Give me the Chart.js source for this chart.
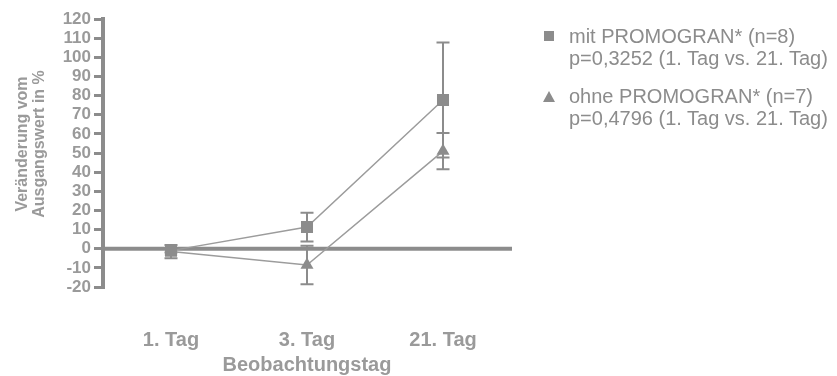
<!DOCTYPE html>
<html>
<head>
<meta charset="utf-8">
<script src="https://cdn.jsdelivr.net/npm/chart.js@4.4.1/dist/chart.umd.min.js"></script>
<style>
  html, body { margin: 0; padding: 0; background: #fff; }
  #wrap { position: relative; width: 837px; height: 376px; }
  #c { position: absolute; left: 0; top: 0; }
  .leg { position: absolute; left: 540px; font-family: "Liberation Sans", Arial, sans-serif; font-size: 20px; line-height: 22px; color: #8c8c8c; white-space: nowrap; }
  .leg .txt { position: absolute; left: 29px; top: 0; }
  .mk { position: absolute; }
</style>
</head>
<body>
<div id="wrap">
  <canvas id="c" width="837" height="376"></canvas>
  <div class="leg" id="leg1" style="top:25px;">
    <div class="mk" style="left:4px; top:6px; width:10px; height:10px; background:#8c8c8c;"></div>
    <div class="txt">mit PROMOGRAN* (n=8)<br>p=0,3252 (1. Tag vs. 21. Tag)</div>
  </div>
  <div class="leg" id="leg2" style="top:85px;">
    <div class="mk" style="left:3px; top:6px; width:0; height:0; border-left:6px solid transparent; border-right:6px solid transparent; border-bottom:11px solid #8c8c8c;"></div>
    <div class="txt">ohne PROMOGRAN* (n=7)<br>p=0,4796 (1. Tag vs. 21. Tag)</div>
  </div>
</div>
<script>
const categories = ['1. Tag', '3. Tag', '21. Tag'];
const mitValues = [-1, 11.3, 77.7];
const mitErrors = [1, 7.5, 30];
const ohneValues = [-1.5, -8.5, 51];
const ohneErrors = [3.5, 10, 9.5];
const yMin = -20;
const yMax = 120;
const yStep = 10;
const yTitleLines = ['Veränderung vom', 'Ausgangswert in %'];
const xTitle = 'Beobachtungstag';
const errorsByDataset = [mitErrors, ohneErrors];

const GRAY = '#8c8c8c';
const LINE = '#9c9c9c';
const TEXT = '#9a9a9a';
const FONT = '"Liberation Sans", Arial, sans-serif';

const zeroLinePlugin = {
  id: 'zeroLine',
  beforeDatasetsDraw(chart) {
    const { ctx, chartArea, scales } = chart;
    const y = scales.y.getPixelForValue(0);
    ctx.save();
    ctx.strokeStyle = GRAY;
    ctx.lineWidth = 4;
    ctx.beginPath();
    ctx.moveTo(chartArea.left, y);
    ctx.lineTo(chartArea.right + 1, y);
    ctx.stroke();
    ctx.restore();
  }
};

const errorBarPlugin = {
  id: 'errorBars',
  beforeDatasetsDraw(chart) {
    const { ctx, scales } = chart;
    ctx.save();
    ctx.strokeStyle = GRAY;
    ctx.lineWidth = 2;
    chart.data.datasets.forEach((ds, di) => {
      const errs = errorsByDataset[di];
      ds.data.forEach((v, i) => {
        const x = scales.x.getPixelForValue(i);
        const yt = scales.y.getPixelForValue(v + errs[i]);
        const yb = scales.y.getPixelForValue(v - errs[i]);
        ctx.beginPath();
        ctx.moveTo(x, yt); ctx.lineTo(x, yb);
        ctx.moveTo(x - 6.5, yt); ctx.lineTo(x + 6.5, yt);
        ctx.moveTo(x - 6.5, yb); ctx.lineTo(x + 6.5, yb);
        ctx.stroke();
      });
    });
    ctx.restore();
  }
};

const yTitlePlugin = {
  id: 'yTitle',
  afterDraw(chart) {
    const { ctx, chartArea } = chart;
    ctx.save();
    ctx.fillStyle = TEXT;
    ctx.font = 'bold 16px ' + FONT;
    ctx.textAlign = 'center';
    ctx.textBaseline = 'middle';
    const cy = (chartArea.top + chartArea.bottom) / 2 - 9;
    const xs = [23, 40];
    yTitleLines.forEach((t, i) => {
      ctx.save();
      ctx.translate(xs[i], cy);
      ctx.rotate(-Math.PI / 2);
      ctx.fillText(t, 0, 0);
      ctx.restore();
    });
    ctx.restore();
  }
};

new Chart(document.getElementById('c'), {
  type: 'line',
  data: {
    labels: categories,
    datasets: [
      {
        label: 'mit PROMOGRAN* (n=8)',
        data: mitValues,
        borderColor: LINE,
        borderWidth: 1.5,
        backgroundColor: GRAY,
        pointStyle: 'rect',
        pointRadius: 8.5,
        pointBackgroundColor: GRAY,
        pointBorderColor: GRAY,
        pointBorderWidth: 0,
        tension: 0
      },
      {
        label: 'ohne PROMOGRAN* (n=7)',
        data: ohneValues,
        borderColor: LINE,
        borderWidth: 1.5,
        backgroundColor: GRAY,
        pointStyle: 'triangle',
        pointRadius: 7.5,
        pointBackgroundColor: GRAY,
        pointBorderColor: GRAY,
        pointBorderWidth: 0,
        tension: 0
      }
    ]
  },
  options: {
    responsive: false,
    animation: false,
    devicePixelRatio: 1,
    layout: { padding: { left: 0, right: 326, top: 19, bottom: 0 } },
    plugins: { legend: { display: false }, tooltip: { enabled: false } },
    scales: {
      x: {
        type: 'category',
        offset: true,
        grid: { display: false, drawTicks: false },
        border: { display: false },
        ticks: { color: TEXT, font: { family: FONT, size: 20, weight: 'bold' }, padding: 41 },
        title: { display: true, text: xTitle, color: TEXT, font: { family: FONT, size: 20, weight: 'bold', lineHeight: 1 }, padding: { top: 0, bottom: 1 } },
        afterFit(scale) { scale.height = 89; }
      },
      y: {
        min: yMin,
        max: yMax,
        ticks: { stepSize: yStep, autoSkip: false, color: TEXT, font: { family: FONT, size: 17, weight: 'bold' }, padding: 3 },
        grid: { drawOnChartArea: false, drawTicks: true, tickLength: 9, color: GRAY, lineWidth: 3 },
        border: { display: true, color: GRAY, width: 4 },
        afterFit(scale) { scale.width = 103; }
      }
    }
  },
  plugins: [zeroLinePlugin, errorBarPlugin, yTitlePlugin]
});
</script>
</body>
</html>
